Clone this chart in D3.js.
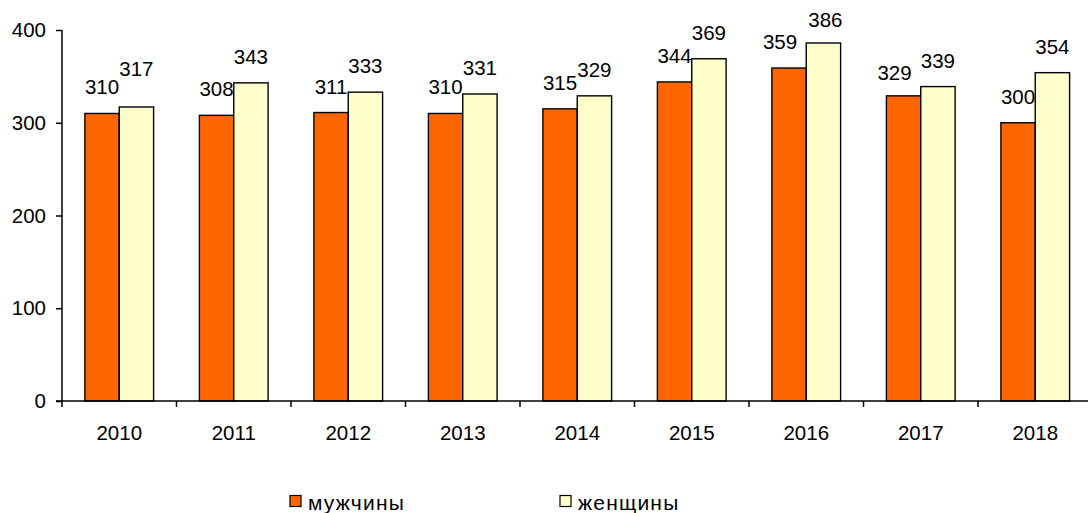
<!DOCTYPE html>
<html>
<head>
<meta charset="utf-8">
<script src="https://cdn.jsdelivr.net/npm/d3@7"></script>
<style>
  body { margin: 0; background: #fff; }
  svg text { font-family: "Liberation Sans", Arial, sans-serif; font-size: 20.5px; fill: #000; }
  svg text.legend { font-size: 21px; letter-spacing: 1.2px; }
</style>
</head>
<body>
<svg id="chart" width="1088" height="513"></svg>
<script>
// data
var years = ['2010', '2011', '2012', '2013', '2014', '2015', '2016', '2017', '2018'];
var men = [310, 308, 311, 310, 315, 344, 359, 329, 300];
var women = [317, 343, 333, 331, 329, 369, 386, 339, 354];
var seriesNames = ['мужчины', 'женщины'];
var yTicks = [0, 100, 200, 300, 400];

var colors = { 'мужчины': '#FF6600', 'женщины': '#FFFFCC' };

// plot area (the right side runs past the picture edge, as in the original)
var plotLeft = 62, plotTop = 30, plotBottom = 401 ;
var band = 114.5 ;

var svg = d3.select('#chart');

var x0 = d3.scaleBand().domain(years).range([plotLeft, plotLeft + years.length * band]).padding(0);
var x1 = d3.scaleBand().domain(seriesNames).range([x0.bandwidth() * 0.2, x0.bandwidth() * 0.8]);
var y = d3.scaleLinear().domain([0, 400]).range([plotBottom, plotTop]);

var rows = years.map(function(yr, i){
  return { year: yr, values: [ { s: seriesNames[0], v: men[i] }, { s: seriesNames[1], v: women[i] } ] };
});

// hand-moved labels in the original
var nudge = {
  '2010|женщины': [0, -12],
  '2016|мужчины': [-9, 0],
  '2016|женщины': [2, 3],
  '2017|мужчины': [-9, 3]
};

var groups = svg.append('g').selectAll('g').data(rows).enter().append('g')
  .attr('transform', function(d){ return 'translate(' + x0(d.year) + ',0)'; });

groups.selectAll('rect').data(function(d){ return d.values; }).enter().append('rect')
  .attr('x', function(d){ return x1(d.s); })
  .attr('y', function(d){ return y(d.v); })
  .attr('width', x1.bandwidth())
  .attr('height', function(d){ return y(0) - y(d.v); })
  .attr('fill', function(d){ return colors[d.s]; })
  .attr('stroke', '#000')
  .attr('stroke-width', 1.4);

groups.each(function(row){
  d3.select(this).selectAll('text.lbl').data(row.values).enter().append('text')
    .attr('class', 'lbl')
    .attr('text-anchor', 'middle')
    .attr('x', function(d){ var n = nudge[row.year + '|' + d.s] || [0, 0]; return x1(d.s) + x1.bandwidth() / 2 + n[0]; })
    .attr('y', function(d){ var n = nudge[row.year + '|' + d.s] || [0, 0]; return y(d.v) - 19 + n[1]; })
    .text(function(d){ return d.v; });
});

// y axis
var yAxis = d3.axisLeft(y).tickValues(yTicks).tickSize(6).tickPadding(10).tickFormat(d3.format('d'));
var ya = svg.append('g').attr('transform', 'translate(' + plotLeft + ',0)').call(yAxis);
ya.select('.domain').attr('d', 'M0,' + plotTop + 'V' + plotBottom).attr('stroke', '#000').attr('stroke-width', 1.5);
ya.selectAll('.tick line').attr('stroke', '#000').attr('stroke-width', 1.5);
ya.selectAll('.tick text').attr('font-size', null).attr('font-family', null).attr('fill', '#000');

// x axis: ticks on category borders
var xa = svg.append('g').attr('transform', 'translate(0,' + plotBottom + ')');
xa.append('line').attr('x1', plotLeft - 6).attr('x2', plotLeft + years.length * band)
  .attr('stroke', '#000').attr('stroke-width', 1.5);
xa.selectAll('line.tk').data(years).enter().append('line').attr('class', 'tk')
  .attr('x1', function(d){ return x0(d); }).attr('x2', function(d){ return x0(d); })
  .attr('y1', 0).attr('y2', 6)
  .attr('stroke', '#000').attr('stroke-width', 1.5);
xa.selectAll('text').data(years).enter().append('text')
  .attr('text-anchor', 'middle')
  .attr('x', function(d){ return x0(d) + x0.bandwidth() / 2; })
  .attr('y', 39)
  .text(function(d){ return d; });

// legend
var legendX = [290, 560];
var lg = svg.append('g').selectAll('g').data(seriesNames).enter().append('g')
  .attr('transform', function(d, i){ return 'translate(' + legendX[i] + ',495.5)'; });
lg.append('rect').attr('width', 11).attr('height', 11)
  .attr('fill', function(d){ return colors[d]; })
  .attr('stroke', '#000').attr('stroke-width', 1.2);
lg.append('text').attr('class', 'legend').attr('x', 18).attr('y', 14).text(function(d){ return d; });
</script>
</body>
</html>
